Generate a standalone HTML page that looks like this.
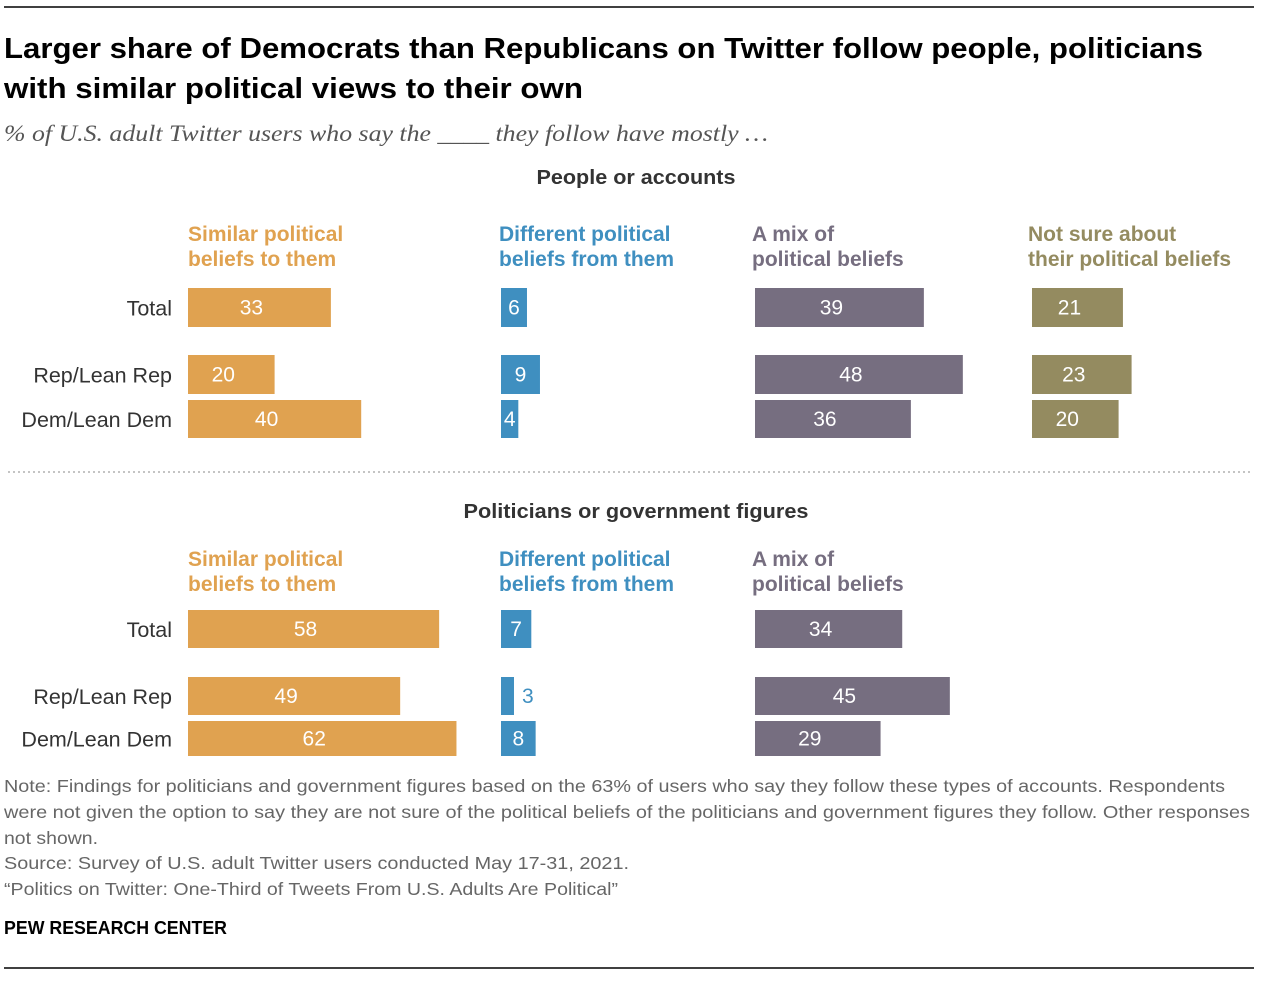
<!DOCTYPE html>
<html><head><meta charset="utf-8"><style>
body{margin:0;background:#fff;width:1280px;height:982px;overflow:hidden;font-family:"Liberation Sans",Arial,sans-serif}
svg text{font-family:"Liberation Sans",Arial,sans-serif}
</style></head><body>
<svg id="c" width="1280" height="982">
<line x1="4" y1="7" x2="1254" y2="7" stroke="#000" stroke-width="1.5"/>
<text x="4" y="58" font-size="29" font-weight="bold" fill="#000" textLength="1199" lengthAdjust="spacingAndGlyphs">Larger share of Democrats than Republicans on Twitter follow people, politicians</text>
<text x="4" y="98" font-size="29" font-weight="bold" fill="#000" textLength="579" lengthAdjust="spacingAndGlyphs">with similar political views to their own</text>
<text x="4" y="141" font-size="23" font-style="italic" fill="#555" textLength="764" lengthAdjust="spacingAndGlyphs" style="font-family:'Liberation Serif',serif">% of U.S. adult Twitter users who say the ____ they follow have mostly …</text>
<text x="636" y="184" font-size="20" font-weight="bold" fill="#333" text-anchor="middle" textLength="199" lengthAdjust="spacingAndGlyphs">People or accounts</text>
<line x1="8" y1="472" x2="1250" y2="472" stroke="#888" stroke-dasharray="2,3"/>
<text x="636" y="518" font-size="20" font-weight="bold" fill="#333" text-anchor="middle" textLength="345" lengthAdjust="spacingAndGlyphs">Politicians or government figures</text>
<g id="marks"></g>
<g font-size="17.5" fill="#666">
<text x="4" y="792" textLength="1221" lengthAdjust="spacingAndGlyphs">Note: Findings for politicians and government figures based on the 63% of users who say they follow these types of accounts. Respondents</text>
<text x="4" y="818" textLength="1246" lengthAdjust="spacingAndGlyphs">were not given the option to say they are not sure of the political beliefs of the politicians and government figures they follow. Other responses</text>
<text x="4" y="844" textLength="94" lengthAdjust="spacingAndGlyphs">not shown.</text>
<text x="4" y="869" textLength="625" lengthAdjust="spacingAndGlyphs">Source: Survey of U.S. adult Twitter users conducted May 17-31, 2021.</text>
<text x="4" y="895" textLength="614" lengthAdjust="spacingAndGlyphs">“Politics on Twitter: One-Third of Tweets From U.S. Adults Are Political”</text>
</g>
<text x="4" y="934" font-size="18" font-weight="bold" fill="#000" textLength="223" lengthAdjust="spacingAndGlyphs">PEW RESEARCH CENTER</text>
<line x1="4" y1="968" x2="1254" y2="968" stroke="#000" stroke-width="1.5"/>
</svg>
<script>
const rows=["Total","Rep/Lean Rep","Dem/Lean Dem"];
const seriesNames=["Similar political|beliefs to them","Different political|beliefs from them","A mix of|political beliefs","Not sure about|their political beliefs"];
const p1Similar=[33,20,40];
const p1Different=[6,9,4];
const p1Mix=[39,48,36];
const p1NotSure=[21,23,20];
const p2Similar=[58,49,62];
const p2Different=[7,3,8];
const p2Mix=[34,45,29];
const colors=["#e0a250","#3f8fc0","#766e80","#948b60"];
const colX=[188,499,752,1028];
const barX=[188,501,755,1032];
const scale=4.33;
const xw=v=>v*scale;
const NS="http://www.w3.org/2000/svg";
const g=document.getElementById('marks');
function mk(t,a,txt){const e=document.createElementNS(NS,t);for(const k in a)e.setAttribute(k,a[k]);if(txt!=null)e.textContent=txt;g.appendChild(e);return e;}
function panel(series,headY,rowY,h){
 series.forEach((vals,si)=>{
  const [l1,l2]=seriesNames[si].split('|');
  const t1=mk('text',{x:colX[si],y:headY,'font-size':21,'font-weight':'bold',fill:colors[si]},l1);
  
  
  const t2=mk('text',{x:colX[si],y:headY+25,'font-size':21,'font-weight':'bold',fill:colors[si]},l2);
  
  
  vals.forEach((v,ri)=>{
   const w=xw(v);
   const r=mk('rect',{x:barX[si],y:rowY[ri],width:w,height:h[ri],fill:colors[si]});
   
   
   const inside=v>=4;
   const lt=mk('text',{x:inside?barX[si]+w/2-(v>=10?8:0):barX[si]+w+8,y:rowY[ri]+h[ri]/2+7,'font-size':21,fill:inside?'#fff':colors[si],'text-anchor':inside?'middle':'start'},v);
   
   
  });
 });
 rows.forEach((n,ri)=>{
  const t=mk('text',{x:172,y:rowY[ri]+h[ri]/2+8,'font-size':21.5,fill:'#333','text-anchor':'end'},n);
  
  
 });
}
panel([p1Similar,p1Different,p1Mix,p1NotSure],241,[288,355,400],[39,39,38]);
panel([p2Similar,p2Different,p2Mix],566,[610,677,721],[38,38,35]);
</script>
</body></html>
